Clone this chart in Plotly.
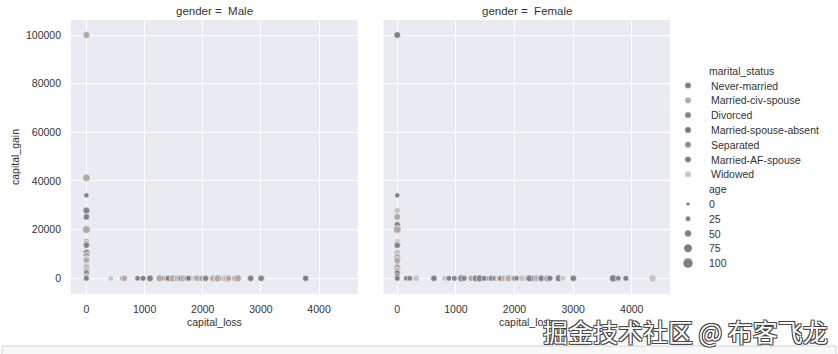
import plotly.graph_objects as go

W, H = 838, 354

# ---------------- data ----------------
statuses = ["Never-married", "Married-civ-spouse", "Divorced", "Married-spouse-absent",
            "Separated", "Married-AF-spouse", "Widowed"]
status_colors = ["#808187", "#b3a8a6", "#85868a", "#77777b", "#8d8d8f", "#808082", "#c6c6c8"]
age_ticks = [0, 25, 50, 75, 100]
x_ticks = [0, 1000, 2000, 3000, 4000]
y_ticks = [0, 20000, 40000, 60000, 80000, 100000]

# Male facet
male_loss = [0]*23 + [419, 625, 653, 880, 974, 1092, 1258, 1340, 1380, 1408, 1485, 1564, 1590, 1602,
                      1628, 1672, 1719, 1740, 1762, 1848, 1876, 1887, 1902, 1977, 2001, 2042, 2051,
                      2179, 2231, 2258, 2339, 2377, 2392, 2415, 2444, 2559, 2603, 2824, 3004, 3770]
male_gain = [99999, 41310, 34095, 27828, 25236, 20051, 15024, 14084, 13550, 10520, 9386, 7688,
             7298, 5178, 4787, 4386, 3908, 3103, 2829, 2174, 1055, 594, 0] + [0]*40
male_status = ["Married-civ-spouse", "Married-civ-spouse", "Never-married", "Divorced", "Never-married",
               "Married-civ-spouse", "Married-civ-spouse", "Married-civ-spouse", "Never-married", "Divorced",
               "Married-civ-spouse", "Married-civ-spouse", "Married-civ-spouse", "Never-married",
               "Married-civ-spouse", "Married-civ-spouse", "Divorced", "Married-civ-spouse", "Separated",
               "Never-married", "Never-married", "Never-married", "Never-married",
               "Widowed", "Never-married", "Married-civ-spouse", "Never-married", "Never-married", "Divorced",
               "Married-civ-spouse", "Never-married", "Married-civ-spouse", "Never-married", "Married-civ-spouse",
               "Married-civ-spouse", "Never-married", "Never-married", "Divorced", "Married-civ-spouse",
               "Never-married", "Divorced", "Married-spouse-absent", "Married-civ-spouse", "Married-civ-spouse",
               "Married-civ-spouse", "Married-civ-spouse", "Never-married", "Separated", "Married-civ-spouse",
               "Divorced", "Married-civ-spouse", "Never-married", "Married-civ-spouse", "Never-married",
               "Married-civ-spouse", "Married-civ-spouse", "Married-civ-spouse", "Married-civ-spouse",
               "Married-civ-spouse", "Married-civ-spouse", "Never-married", "Divorced", "Never-married"]
male_age = [50, 62, 20, 50, 40, 65, 45, 55, 35, 45, 50, 55, 40, 38, 50, 60, 30, 48, 30, 35, 22, 20, 30,
            30, 30, 40, 25, 30, 45, 50, 25, 40, 35, 55, 50, 30, 20, 40, 45, 28, 35, 30, 45, 55, 50, 42,
            28, 40, 45, 38, 50, 35, 55, 25, 48, 60, 45, 40, 50, 55, 40, 42, 38]

# Female facet
female_loss = [0]*20 + [155, 213, 323, 625, 810, 880, 974, 1092, 1138, 1258, 1340, 1408, 1485, 1564,
                        1590, 1602, 1669, 1719, 1741, 1762, 1825, 1876, 1902, 1980, 2001, 2042, 2129,
                        2231, 2238, 2258, 2339, 2377, 2415, 2444, 2457, 2559, 2603, 2754, 2824, 3004,
                        3683, 3770, 3900, 4356]
female_gain = [99999, 34095, 27828, 25236, 22040, 20051, 15024, 14084, 13550, 10520, 8614, 7688, 7298,
               5013, 4386, 3325, 3103, 2174, 1055, 0] + [0]*44
female_status = ["Never-married", "Never-married", "Widowed", "Married-civ-spouse", "Divorced",
                 "Married-civ-spouse", "Widowed", "Married-civ-spouse", "Divorced", "Widowed",
                 "Married-civ-spouse", "Never-married", "Married-civ-spouse", "Divorced", "Married-civ-spouse",
                 "Never-married", "Married-civ-spouse", "Never-married", "Never-married", "Never-married",
                 "Never-married", "Divorced", "Widowed", "Never-married", "Widowed", "Never-married",
                 "Divorced", "Never-married", "Divorced", "Married-civ-spouse", "Never-married", "Divorced",
                 "Never-married", "Married-spouse-absent", "Never-married", "Separated", "Never-married",
                 "Divorced", "Widowed", "Never-married", "Married-civ-spouse", "Married-civ-spouse",
                 "Married-civ-spouse", "Married-civ-spouse", "Separated", "Never-married", "Widowed",
                 "Never-married", "Divorced", "Never-married", "Divorced", "Married-civ-spouse",
                 "Never-married", "Married-civ-spouse", "Divorced", "Married-civ-spouse", "Never-married",
                 "Divorced", "Widowed", "Never-married", "Never-married", "Divorced", "Never-married",
                 "Widowed"]
female_age = [45, 20, 45, 45, 40, 65, 40, 45, 40, 55, 50, 40, 45, 35, 50, 30, 40, 35, 22, 30,
              25, 30, 50, 40, 35, 28, 30, 50, 35, 40, 45, 50, 30, 30, 25, 35, 28, 35, 40, 30,
              40, 45, 50, 35, 30, 25, 50, 35, 40, 45, 45, 50, 40, 45, 40, 55, 35, 50, 30, 40,
              55, 28, 30, 60]

# ---------------- helpers ----------------
color_of = dict(zip(statuses, status_colors))


def size_of(a):
    return 4 + a * 0.06


FONT = "Liberation Sans, Arial, sans-serif"
TXT = "#333333"
BG = "#EAEAF2"

fig = go.Figure()
facets = [("Male", male_loss, male_gain, male_status, male_age, "x", "y"),
          ("Female", female_loss, female_gain, female_status, female_age, "x2", "y2")]
for name, loss, gain, st, age, xa, ya in facets:
    fig.add_trace(go.Scatter(
        x=loss, y=gain, mode="markers", xaxis=xa, yaxis=ya, showlegend=False,
        marker=dict(size=[size_of(a) for a in age], color=[color_of[s] for s in st],
                    line=dict(color="white", width=0.6), opacity=1),
        hoverinfo="skip"))

# ---------------- custom legend (seaborn style) ----------------
LX0 = 672
row0, dy = 70.7, 14.8
mark_x, text_x = 688, 707
hue_rows = [row0 + dy * (i + 1) for i in range(len(statuses))]
fig.add_trace(go.Scatter(
    x=[mark_x] * len(statuses), y=hue_rows, mode="markers", xaxis="x3", yaxis="y3",
    marker=dict(size=6.5, color=status_colors, line=dict(color="white", width=0.6)),
    showlegend=False, hoverinfo="skip"))
age_rows = [row0 + dy * (len(statuses) + 2 + i) for i in range(len(age_ticks))]
fig.add_trace(go.Scatter(
    x=[mark_x] * len(age_ticks), y=age_rows, mode="markers", xaxis="x3", yaxis="y3",
    marker=dict(size=[size_of(a) for a in age_ticks], color="#4a4a4a",
                line=dict(color="white", width=0.6)),
    showlegend=False, hoverinfo="skip"))

LFONT = dict(family=FONT, size=10.5, color=TXT)
annotations = []
annotations.append(dict(x=text_x, y=row0, xref="x3", yref="y3", text="marital_status",
                        showarrow=False, xanchor="left", yanchor="middle", font=LFONT))
for s, yy in zip(statuses, hue_rows):
    annotations.append(dict(x=text_x + 2, y=yy, xref="x3", yref="y3", text=s,
                            showarrow=False, xanchor="left", yanchor="middle", font=LFONT))
annotations.append(dict(x=text_x, y=row0 + dy * (len(statuses) + 1), xref="x3", yref="y3",
                        text="age", showarrow=False, xanchor="left", yanchor="middle", font=LFONT))
for a, yy in zip(age_ticks, age_rows):
    annotations.append(dict(x=text_x, y=yy, xref="x3", yref="y3", text=str(a),
                            showarrow=False, xanchor="left", yanchor="middle", font=LFONT))

# ---------------- layout ----------------
x1dom = [71 / W, 357.6 / W]
x2dom = [383.4 / W, 670 / W]
ydom = [1 - 294 / H, 1 - 20 / H]

for name, dom in [("Male", x1dom), ("Female", x2dom)]:
    annotations.append(dict(x=(dom[0] + dom[1]) / 2, y=1 - 11 / H, xref="paper", yref="paper",
                            text="gender =  " + name, showarrow=False, xanchor="center",
                            yanchor="middle", font=dict(family=FONT, size=11.5, color=TXT)))
    annotations.append(dict(x=(dom[0] + dom[1]) / 2, y=1 - 321.5 / H, xref="paper", yref="paper",
                            text="capital_loss", showarrow=False, xanchor="center",
                            yanchor="middle", font=dict(family=FONT, size=10.5, color=TXT)))
annotations.append(dict(x=15 / W, y=1 - 157 / H, xref="paper", yref="paper", text="capital_gain",
                        textangle=-90, showarrow=False, xanchor="center", yanchor="middle",
                        font=dict(family=FONT, size=10.5, color=TXT)))

# watermark
annotations.append(dict(x=685 / W, y=1 - 331 / H, xref="paper", yref="paper",
                        text="掘金技术社区 @ 布客飞龙", showarrow=False, xanchor="center",
                        yanchor="middle",
                        font=dict(family="Noto Sans CJK SC", size=25, color="white",
                                  shadow="-1px -1px 0 #444, 1px -1px 0 #444, -1px 1px 0 #444, 1px 1px 0 #444")))

axis_common = dict(showgrid=True, gridcolor="white", gridwidth=1, zeroline=False, showline=False,
                   ticks="", tickfont=dict(family=FONT, size=10.5, color=TXT))

shapes = [dict(type="rect", xref="paper", yref="paper", x0=2 / W, x1=836 / W, y0=-0.02,
               y1=1 - 346 / H, line=dict(color="#d4d4d4", width=1), fillcolor="#f8f8f8",
               layer="below")]
for xr, yr in [("x", "y"), ("x2", "y2")]:
    shapes.append(dict(type="rect", xref=xr + " domain", yref=yr + " domain", x0=0, x1=1, y0=0, y1=1,
                       line=dict(width=0), fillcolor=BG, layer="below"))

fig.update_layout(
    width=W, height=H, margin=dict(l=0, r=0, t=0, b=0),
    paper_bgcolor="white", plot_bgcolor="rgba(0,0,0,0)", showlegend=False,
    xaxis=dict(domain=x1dom, range=[-265, 4663], tickvals=x_ticks, tickformat="d", anchor="y",
               ticklabelstandoff=7, **axis_common),
    xaxis2=dict(domain=x2dom, range=[-237, 4653], tickvals=x_ticks, tickformat="d", anchor="y2",
                ticklabelstandoff=7, **axis_common),
    yaxis=dict(domain=ydom, range=[-6450, 106165], tickvals=y_ticks, tickformat="d", anchor="x",
               ticklabelstandoff=9, **axis_common),
    yaxis2=dict(domain=ydom, range=[-6450, 106165], tickvals=y_ticks, anchor="x2",
                showticklabels=False, **axis_common),
    xaxis3=dict(domain=[LX0 / W, 1], range=[LX0, W], visible=False, fixedrange=True, anchor="y3"),
    yaxis3=dict(domain=[1 - 300 / H, 1 - 50 / H], range=[300, 50], visible=False, fixedrange=True,
                anchor="x3"),
    annotations=annotations,
    shapes=shapes,
)

fig.write_html("out.html")
